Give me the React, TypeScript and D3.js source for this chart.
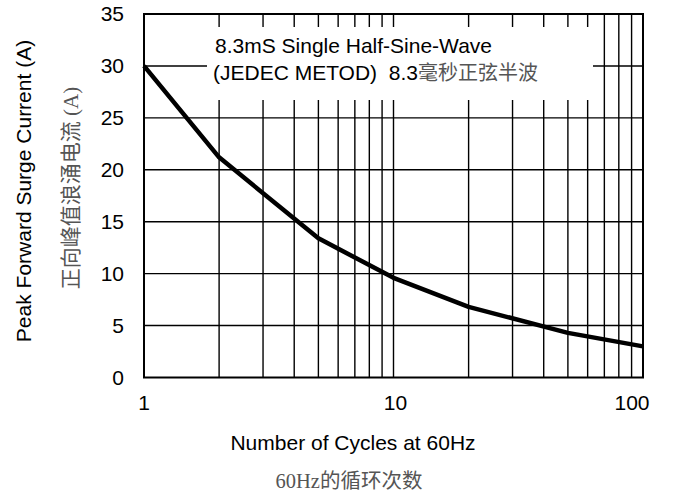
import { useEffect, useRef } from 'react'
import * as d3 from 'd3'

const CYCLES = [1, 2, 5, 10, 20, 50, 100]
const CURRENT = [30, 21.2, 13.4, 9.6, 6.8, 4.3, 3.0]
const Y_TICKS = [0, 5, 10, 15, 20, 25, 30, 35]
const X_TICKS = [1, 10, 100]
const X_GRID = [2, 3, 4, 5, 6, 7, 8, 9, 10, 20, 30, 40, 50, 60, 70, 80, 90]
const Y_GRID = [5, 10, 15, 20, 25, 30]

export default function App() {
  const svgRef = useRef<SVGSVGElement>(null)

  useEffect(() => {
    const svgEl = svgRef.current
    if (!svgEl) return
    const W = 678
    const H = 497
    const L = 144, R = 643, T = 14, B = 377.5

    const svg = d3.select(svgEl).attr('viewBox', `0 0 ${W} ${H}`)
    svg.selectAll('*').remove()

    const x = d3.scaleLog().domain([1, 100]).range([L, R])
    const y = d3.scaleLinear().domain([0, 35]).range([B, T])
    const font = 'Arial, "Liberation Sans", sans-serif'
    const cjk = '"Liberation Serif", "Noto Sans CJK SC", serif'
    const fs = 21

    // grid
    const grid = svg.append('g').attr('stroke', '#000').attr('stroke-width', 1.4)
    grid.selectAll('line.v').data(X_GRID).join('line')
      .attr('x1', d => x(d)).attr('x2', d => x(d)).attr('y1', T).attr('y2', B)
    grid.selectAll('line.h').data(Y_GRID).join('line')
      .attr('x1', L).attr('x2', R).attr('y1', d => y(d)).attr('y2', d => y(d))

    // white box behind annotation
    svg.append('rect').attr('x', 207).attr('y', 27).attr('width', 386).attr('height', 73).attr('fill', '#fff')

    const ann = svg.append('g').attr('font-family', font).attr('font-size', fs).attr('fill', '#000')
    ann.append('text').attr('x', 215).attr('y', 52.5).text('8.3mS Single Half-Sine-Wave')
    const t2 = ann.append('text').attr('x', 213).attr('y', 80)
    t2.append('tspan').text('(JEDEC METOD)\u00a0 8.3')
    t2.append('tspan').attr('font-family', '"Noto Sans CJK SC", sans-serif').attr('font-size', 20)
      .attr('fill', '#555').text('毫秒正弦半波')

    // frame
    svg.append('rect').attr('x', L).attr('y', T).attr('width', R - L).attr('height', B - T)
      .attr('fill', 'none').attr('stroke', '#000').attr('stroke-width', 2)

    // curve
    const line = d3.line<number>().x((_, i) => x(CYCLES[i])).y(d => y(d))
    svg.append('path').datum(CURRENT).attr('d', line).attr('fill', 'none')
      .attr('stroke', '#000').attr('stroke-width', 4.5).attr('stroke-linejoin', 'round')

    // y ticks
    svg.append('g').attr('font-family', font).attr('font-size', fs).attr('text-anchor', 'end')
      .selectAll('text').data(Y_TICKS).join('text')
      .attr('x', 124).attr('y', d => y(d)).attr('dy', '0.35em').text(d => d)

    // x ticks
    svg.append('g').attr('font-family', font).attr('font-size', fs).attr('text-anchor', 'middle')
      .selectAll('text').data(X_TICKS).join('text')
      .attr('x', (d, i) => x(d) + (i === 1 ? 2 : i === 2 ? -11 : 0)).attr('y', 410).text(d => d)

    // axis titles
    svg.append('text').attr('x', 353).attr('y', 450).attr('text-anchor', 'middle')
      .attr('font-family', font).attr('font-size', fs).text('Number of Cycles at 60Hz')
    svg.append('text').attr('x', 349).attr('y', 488).attr('text-anchor', 'middle')
      .attr('font-family', cjk).attr('font-size', 20.5).attr('fill', '#555').text('60Hz的循环次数')

    svg.append('text').attr('transform', 'translate(24,191) rotate(-90)').attr('text-anchor', 'middle')
      .attr('dy', '0.35em').attr('font-family', font).attr('font-size', fs).text('Peak Forward Surge Current (A)')
    svg.append('text').attr('transform', 'translate(70,188) rotate(-90)').attr('text-anchor', 'middle')
      .attr('dy', '0.36em').attr('font-family', cjk).attr('font-size', 21).attr('fill', '#555')
      .text('正向峰值浪涌电流 (A)')

    return () => { svg.selectAll('*').remove() }
  }, [])

  return (
    <svg ref={svgRef} width={678} height={497}
      style={{ position: 'absolute', left: 0, top: 0, background: '#fff' }} />
  )
}
